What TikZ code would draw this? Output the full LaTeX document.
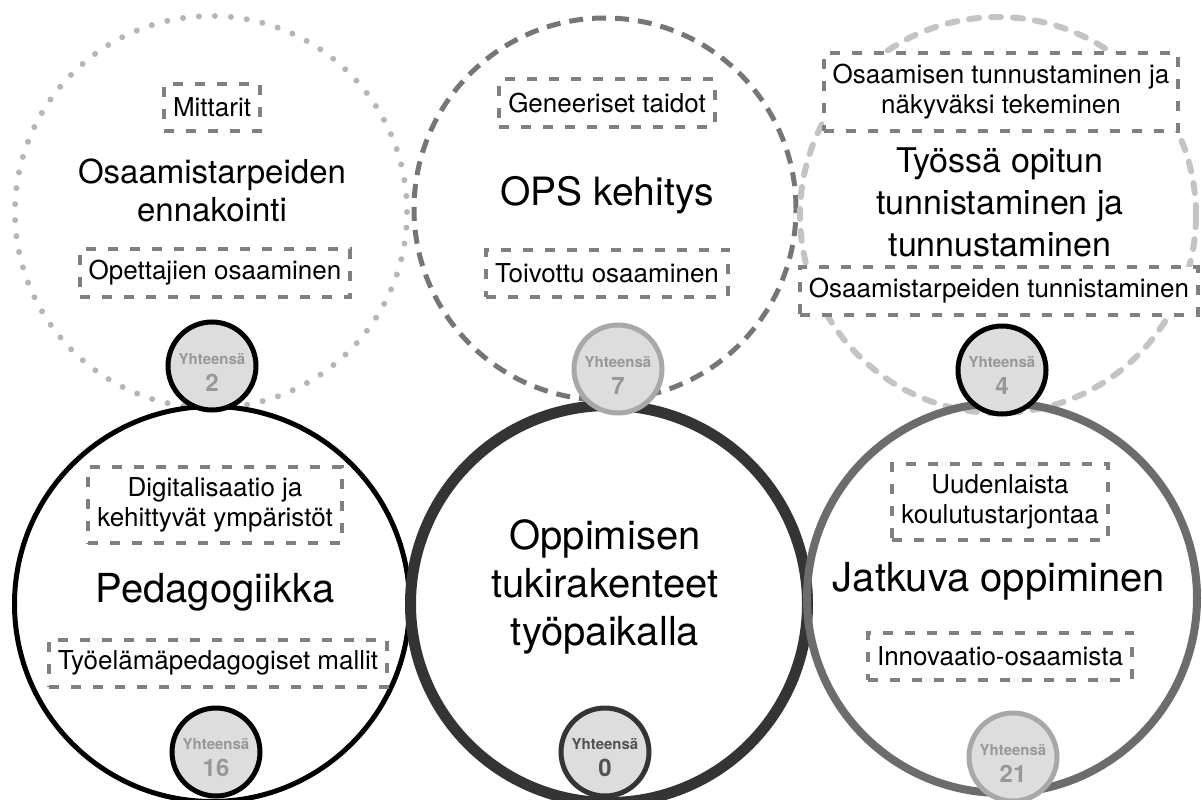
\documentclass[tikz,border=0pt]{standalone}
\usepackage{fontspec}
\setmainfont{TeX Gyre Heros}
\definecolor{BoxGray}{RGB}{128,128,128}
\definecolor{DotGray}{RGB}{182,182,182}
\definecolor{DashGray}{RGB}{118,118,118}
\definecolor{PaleGray}{RGB}{196,196,196}
\definecolor{BadgeFill}{RGB}{221,221,221}
\definecolor{BadgeText}{RGB}{152,152,152}
\definecolor{RingDark}{RGB}{52,52,52}
\definecolor{RingMid}{RGB}{108,108,108}
\definecolor{RingLight}{RGB}{168,168,168}
\tikzset{
  ring/.style={
    circle,
    inner sep=0pt,
    outer sep=0pt
  },
  dotring/.style={draw=DotGray,line width=6pt,line cap=round,dash pattern=on 0pt off 16pt},
  dashring/.style={draw=DashGray,line width=5pt,dash pattern=on 14pt off 9pt},
  paledashring/.style={draw=PaleGray,line width=6pt,line cap=round,dash pattern=on 10pt off 12pt},
  tagbox/.style={
    draw=BoxGray,
    fill=white,
    line width=4pt,
    dash pattern=on 10pt off 12pt,
    inner xsep=9pt,
    inner ysep=11pt,
    minimum height=47pt,
    align=center,
    font=\fontsize{26}{30}\selectfont
  },
  title/.style={
    align=center,
    font=\fontsize{40}{48}\selectfont
  },
  badge/.style={
    circle,
    fill=BadgeFill,
    line width=5pt,
    minimum size=88pt,
    inner sep=0pt
  },
  badgetext/.style={
    align=center,
    text=BadgeText,
    font=\bfseries\fontsize{15}{27}\selectfont
  }
}

\begin{document}
\begin{tikzpicture}[x=1pt,y=-1pt]
    \useasboundingbox (0,0) rectangle (1202,800);
    % upper row
    \node[ring,dotring,minimum size=392pt] (ennakointi) at (211,212) {};
    \node[ring,dashring,minimum size=382pt] (ops) at (605,209) {};
    \node[ring,paledashring,minimum size=396pt] (tunnistus) at (998,215) {};
    % lower row
    \node[ring,draw=black,line width=5pt,minimum size=395pt] (pedagogiikka) at (212,604) {};
    \node[ring,draw=RingDark,line width=11pt,minimum size=397pt] (tuki) at (609,604) {};
    \node[ring,draw=RingMid,line width=8pt,minimum size=390pt] (jatkuva) at (1002,598) {};

    \node[title,font=\fontsize{33}{38}\selectfont] (ennakointitxt) at (212,190) {Osaamistarpeiden\\ennakointi};
    \node[title,font=\fontsize{39}{46}\selectfont] (opstxt) at (607,195) {OPS kehitys};
    \node[title,font=\fontsize{34}{42}\selectfont] (tunnistustxt) at (1000,202) {Työssä opitun\\tunnistaminen ja\\tunnustaminen};
    \node[title] (pedagogiikkatxt) at (215,592) {Pedagogiikka};
    \node[title] (tukitxt) at (605,587) {Oppimisen\\tukirakenteet\\työpaikalla};
    \node[title] (jatkuvatxt) at (999,581) {Jatkuva oppiminen};

    \node[tagbox] (mittarit) at (212,107) {Mittarit};
    \node[tagbox] (opettajat) at (215,273) {Opettajien osaaminen};
    \node[tagbox] (geneeriset) at (607,103) {Geneeriset taidot};
    \node[tagbox] (toivottu) at (607,273) {Toivottu osaaminen};
    \node[tagbox] (nakyvaksi) at (1001,92) {Osaamisen tunnustaminen ja\\näkyväksi tekeminen};
    \node[tagbox] (tarpeet) at (999,291) {Osaamistarpeiden tunnistaminen};
    \node[tagbox] (digi) at (215,505) {Digitalisaatio ja\\kehittyvät ympäristöt};
    \node[tagbox] (mallit) at (218,663) {Työelämäpedagogiset mallit};
    \node[tagbox] (koulutus) at (1000,502) {Uudenlaista\\koulutustarjontaa};
    \node[tagbox] (innovaatio) at (1000,656) {Innovaatio-osaamista};

    % totals
    \node[badge,draw=black] (sum2) at (212,366) {};
    \node[badgetext] (sum2txt) at ([yshift=-6pt]sum2.center) {Yhteensä\\\fontsize{24}{27}\selectfont 2};
    \node[badge,draw=RingLight] (sum7) at (618,369) {};
    \node[badgetext] (sum7txt) at ([yshift=-6pt]sum7.center) {Yhteensä\\\fontsize{24}{27}\selectfont 7};
    \node[badge,draw=black] (sum4) at (1002,370) {};
    \node[badgetext] (sum4txt) at ([yshift=-5pt]sum4.center) {Yhteensä\\\fontsize{24}{27}\selectfont 4};
    \node[badge,draw=black] (sum16) at (216,752) {};
    \node[badgetext] (sum16txt) at ([yshift=-6pt]sum16.center) {Yhteensä\\\fontsize{24}{27}\selectfont 16};
    \node[badge,draw=RingDark] (sum0) at (605,752) {};
    \node[badgetext,text=RingDark!85] (sum0txt) at ([yshift=-6pt]sum0.center) {Yhteensä\\\fontsize{24}{27}\selectfont 0};
    \node[badge,draw=RingLight] (sum21) at (1013,757) {};
    \node[badgetext] (sum21txt) at ([yshift=-6pt]sum21.center) {Yhteensä\\\fontsize{24}{27}\selectfont 21};
\end{tikzpicture}
\end{document}
